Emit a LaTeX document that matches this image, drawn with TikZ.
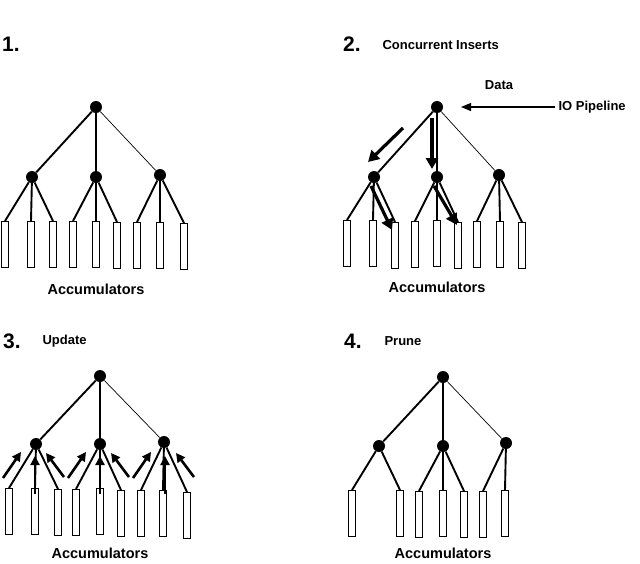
\documentclass[tikz,border=0pt]{standalone}
\usepackage{fontspec}
\setmainfont{Liberation Sans}
\usetikzlibrary{arrows.meta}
\begin{document}
\begin{tikzpicture}[x=1pt,y=-1pt,
  dot/.style={circle,fill=black,inner sep=0pt,minimum size=12pt},
  leaf/.style={draw,rectangle,inner sep=0pt,minimum width=6.5pt,minimum height=46pt,anchor=north,line width=0.8pt},
  e/.style={line width=1.9pt},
  thin/.style={line width=0.7pt},
  big/.style={font=\fontsize{21}{21}\selectfont\bfseries},
  lab/.style={font=\fontsize{14.5}{14.5}\selectfont\bfseries},
  sm/.style={font=\fontsize{13}{13}\selectfont\bfseries},
  fat/.style={line width=3.2pt,-{Triangle[length=11pt,width=12pt]}},
  up/.style={line width=2.6pt,-{Triangle[length=9pt,width=9pt]}}]
\useasboundingbox (0,0) rectangle (640,563);
% panel 1
\node[big] (n1) at (11,44) {1.};
\node[dot] (r1) at (96,107) {};
\node[dot] (a1) at (32,177) {};
\node[dot] (b1) at (96,177) {};
\node[dot] (c1) at (160,175) {};
\foreach \i/\x/\y in {1/5/221,2/31/221,3/53/221,4/73/221,5/96/221,6/117/222,7/137/222,8/160/222,9/184/223}
  \node[leaf] (l1\i) at (\x,\y) {};
\draw[e] (r1)--(a1); \draw[e] (r1)--(b1); \draw[thin] (r1)--(c1);
\foreach \p/\l in {a1/1,a1/2,a1/3,b1/4,b1/5,b1/6,c1/7,c1/8,c1/9} \draw[e] (\p)--(l1\l.north);
\node[lab] (t1) at (96,289) {Accumulators};
% panel 2
\node[big] (n2) at (352,44) {2.};
\node[sm,anchor=west] (h2) at (379,45) {Concurrent Inserts};
\node[dot] (r2) at (437,107) {};
\node[dot] (a2) at (374,177) {};
\node[dot] (b2) at (437,177) {};
\node[dot] (c2) at (499,175) {};
\foreach \i/\x/\y in {1/347/220,2/373/220,3/395/222,4/415/221,5/437/220,6/458/222,7/477/221,8/500/221,9/522/222}
  \node[leaf] (l2\i) at (\x,\y) {};
\draw[e] (r2)--(a2); \draw[e] (r2)--(b2); \draw[thin] (r2)--(c2);
\foreach \p/\l in {a2/1,a2/2,a2/3,b2/4,b2/5,b2/6,c2/7,c2/8,c2/9} \draw[e] (\p)--(l2\l.north);
\node[lab] (t2) at (437,287) {Accumulators};
\node[sm] (d2) at (499,85) {Data};
\node[sm,anchor=west] (io) at (555,107) {IO Pipeline};
\draw[line width=1.1pt,-{Triangle[length=10pt,width=8pt]}] (io.west) -- (461,107);
\draw[fat] (403,128) -- (368,162);
\draw[fat] (432,118) -- (432,169);
\draw[fat] (371,186) -- (392,230);
\draw[fat] (434,186) -- (457,225);
% panel 3
\node[big] (n3) at (12,341) {3.};
\node[sm,anchor=west] (h3) at (39,341) {Update};
\node[dot] (r3) at (100,376) {};
\node[dot] (a3) at (36,444) {};
\node[dot] (b3) at (100,444) {};
\node[dot] (c3) at (164,442) {};
\foreach \i/\x/\y in {1/9/488,2/35/488,3/58/489,4/76/489,5/100/488,6/121/490,7/141/490,8/163/490,9/187/492}
  \node[leaf] (l3\i) at (\x,\y) {};
\draw[e] (r3)--(a3); \draw[e] (r3)--(b3); \draw[thin] (r3)--(c3);
\foreach \p/\l in {a3/1,a3/2,a3/3,b3/4,b3/5,b3/6,c3/7,c3/8,c3/9} \draw[e] (\p)--(l3\l.north);
\foreach \dx in {0,65,130}{
  \draw[up] (3+\dx,478) -- (21+\dx,452);
  \draw[up] (35+\dx,494) -- (35+\dx,456);
  \draw[up] (64+\dx,477) -- (46+\dx,453);
}
\node[lab] (t3) at (100,553) {Accumulators};
% panel 4
\node[big] (n4) at (353,341) {4.};
\node[sm,anchor=west] (h4) at (381,341) {Prune};
\node[dot] (r4) at (443,377) {};
\node[dot] (a4) at (379,446) {};
\node[dot] (b4) at (443,446) {};
\node[dot] (c4) at (506,443) {};
\foreach \i/\x/\y in {1/352/490,2/400/490,3/419/491,4/443/490,5/464/491,6/483/491,7/505/490}
  \node[leaf] (l4\i) at (\x,\y) {};
\draw[e] (r4)--(a4); \draw[e] (r4)--(b4); \draw[thin] (r4)--(c4);
\foreach \p/\l in {a4/1,a4/2,b4/3,b4/4,b4/5,c4/6,c4/7} \draw[e] (\p)--(l4\l.north);
\node[lab] (t4) at (443,553) {Accumulators};
\end{tikzpicture}
\end{document}
